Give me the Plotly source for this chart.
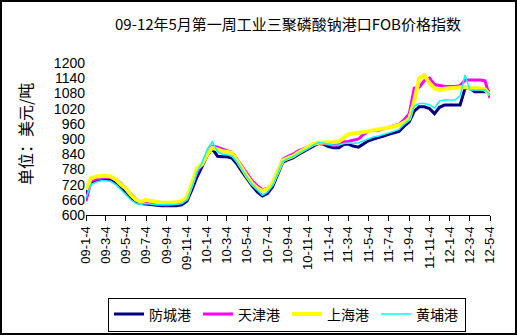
import plotly.graph_objects as go

# Semi-monthly observation dates, 2009-01-04 .. 2012-05-04
dates = []
for y in range(2009, 2013):
    for mth in range(1, 13):
        for d in (4, 19):
            if (y, mth, d) <= (2012, 5, 4):
                dates.append(f"{y}-{mth:02d}-{d:02d}")

# Port FOB prices, USD/t
fangcheng = [680, 728, 735, 740, 740, 738, 725, 708, 690, 668,
             650, 645, 643, 640, 638, 637, 637, 637, 637, 640,
             655, 700, 750, 790, 835, 862, 832, 830, 830, 825,
             800, 770, 740, 715, 690, 675, 685, 710, 760, 808,
             818, 825, 838, 848, 860, 872, 882, 880, 870, 865,
             865, 878, 880, 872, 868, 880, 893, 900, 905, 912,
             918, 925, 930, 950, 968, 1010, 1027, 1027, 1020, 1000,
             1025, 1034, 1034, 1034, 1034, 1100, 1100, 1087, 1087, 1087,
             1087]
tianjin = [655, 735, 742, 745, 748, 748, 740, 725, 705, 682,
           662, 650, 648, 645, 642, 640, 640, 642, 645, 648,
           662, 715, 770, 800, 845, 872, 868, 860, 855, 848,
           820, 790, 760, 735, 715, 700, 705, 720, 770, 820,
           832, 840, 852, 860, 870, 878, 885, 882, 878, 875,
           878, 888, 890, 895, 900, 918, 930, 935, 935, 940,
           945, 950, 958, 975, 1000, 1100, 1105, 1130, 1140, 1115,
           1110, 1107, 1107, 1107, 1110, 1133, 1133, 1133, 1133, 1130,
           1062]
shanghai = [700, 745, 752, 755, 755, 752, 740, 720, 705, 680,
            660, 652, 660, 655, 650, 648, 648, 648, 650, 655,
            670, 725, 785, 800, 840, 865, 858, 852, 850, 845,
            815, 780, 752, 725, 705, 695, 702, 725, 775, 815,
            825, 832, 845, 855, 868, 880, 885, 885, 885, 888,
            890, 905, 918, 922, 925, 925, 930, 935, 938, 940,
            945, 950, 955, 965, 980, 1050, 1140, 1152, 1120, 1100,
            1093, 1098, 1100, 1100, 1102, 1105, 1100, 1100, 1100, 1095,
            1075]
huangpu = [668, 720, 730, 735, 735, 733, 720, 700, 680, 660,
           645, 642, 645, 642, 640, 640, 640, 640, 642, 645,
           660, 710, 770, 805, 860, 889, 850, 840, 838, 832,
           808, 778, 748, 720, 698, 678, 690, 715, 765, 812,
           822, 830, 842, 852, 862, 876, 886, 884, 878, 875,
           876, 882, 884, 882, 885, 892, 900, 908, 912, 918,
           922, 930, 938, 958, 975, 1030, 1040, 1040, 1035, 1022,
           1050, 1054, 1054, 1054, 1070, 1153, 1093, 1093, 1093, 1093,
           1074]

tick_dates = [f"{y}-{mth:02d}-04" for y in range(2009, 2013) for mth in range(1, 13, 2)
              if (y, mth) <= (2012, 5)]
tick_text = [f"{y % 100:02d}-{mth}-4" for y in range(2009, 2013) for mth in range(1, 13, 2)
             if (y, mth) <= (2012, 5)]

series = [
    ("防城港", fangcheng, "#000080", 3),
    ("天津港", tianjin, "#FF00FF", 3),
    ("上海港", shanghai, "#FFFF00", 4),
    ("黄埔港", huangpu, "#00FFFF", 1.5),
]

fig = go.Figure()
for name, vals, color, w in series:
    fig.add_trace(go.Scatter(x=dates, y=vals, name=name, mode="lines",
                             line=dict(color=color, width=w)))

W, H = 517, 335
ml, mr, mt, mb = 86, 27, 63, 120
pw, ph = W - ml - mr, H - mt - mb

fig.update_layout(
    width=W, height=H,
    margin=dict(l=ml, r=mr, t=mt, b=mb, autoexpand=False),
    paper_bgcolor="white", plot_bgcolor="white",
    font=dict(family="Noto Sans CJK SC, Liberation Sans", color="black"),
    title=dict(text="09-12年5月第一周工业三聚磷酸钠港口FOB价格指数",
               x=0.5, xref="paper", xanchor="center",
               y=1 - 25 / H, yanchor="middle",
               font=dict(size=15, family="Noto Sans CJK SC")),
    xaxis=dict(type="date", range=[dates[0], dates[-1]], automargin=False,
               tickmode="array", tickvals=tick_dates, ticktext=tick_text,
               tickangle=-90, ticks="outside", ticklen=5, tickcolor="black",
               showline=True, linecolor="black", linewidth=1,
               showgrid=False, zeroline=False,
               tickfont=dict(size=13, family="Liberation Sans")),
    yaxis=dict(range=[600, 1200], tickmode="linear", tick0=600, dtick=60,
               automargin=False,
               showline=False, showgrid=False, zeroline=False, ticks="",
               tickfont=dict(size=14, family="Liberation Sans")),
    legend=dict(orientation="h", xref="container", yref="container",
                x=287 / W, xanchor="center",
                y=1 - 314.5 / H, yanchor="middle",
                bordercolor="black", borderwidth=1, bgcolor="white",
                font=dict(size=14, family="Noto Sans CJK SC"),
                itemwidth=30, entrywidth=44, tracegroupgap=0),
    annotations=[dict(text="单位：美元/吨", textangle=-90, showarrow=False,
                      xref="paper", yref="paper",
                      x=(25 - ml) / pw, xanchor="center",
                      y=(215 - 134) / ph, yanchor="middle",
                      font=dict(size=16, family="Noto Sans CJK SC"))],
    shapes=[dict(type="rect", xref="paper", yref="paper",
                 x0=(1 - ml) / pw, x1=(516 - ml) / pw,
                 y0=(215 - 334) / ph, y1=(215 - 1) / ph,
                 line=dict(color="black", width=2), layer="below")],
)

fig.write_html("out.html")
